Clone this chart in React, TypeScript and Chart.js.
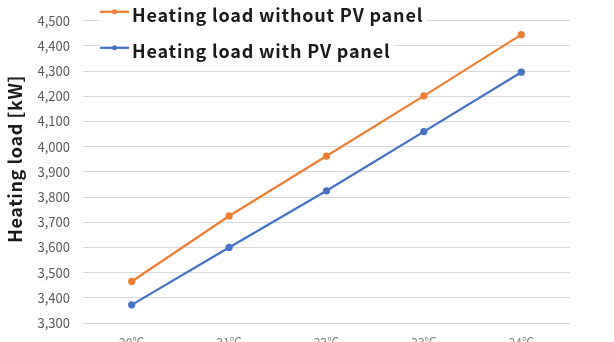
import React, { useEffect, useRef } from "react";
import { Chart, registerables } from "chart.js";

Chart.register(...registerables);

const categories = ["20℃", "21℃", "22℃", "23℃", "24℃"];
const withoutPV = [3465, 3725, 3963, 4202, 4445];
const withPV = [3372, 3600, 3825, 4060, 4296];
const seriesNames = ["Heating load without PV panel", "Heating load with PV panel"];
const yTitle = "Heating load [kW]";
const yMin = 3300;
const yMax = 4500;
const yStep = 100;

const ORANGE = "#ED7D31";
const BLUE = "#4472C4";
const FONT = "'Noto Sans CJK KR', 'Noto Sans', sans-serif";

const legendPlugin = {
  id: "insideLegend",
  afterDraw(chart: any) {
    const ctx = chart.ctx;
    const area = chart.chartArea;
    const colors = [ORANGE, BLUE];
    ctx.save();
    seriesNames.forEach((name, i) => {
      const y = area.top - 9 + i * 36;
      const x0 = area.left + 17;
      ctx.font = `bold 18px ${FONT}`;
      (ctx as any).letterSpacing = "0.8px";
      const w = ctx.measureText(name).width;
      // white background of this legend entry (hides gridlines)
      ctx.fillStyle = "#ffffff";
      ctx.fillRect(x0 - 1, y - 12, w + 36, 26);
      ctx.strokeStyle = colors[i];
      ctx.lineWidth = 2.25;
      ctx.beginPath();
      ctx.moveTo(x0, y);
      ctx.lineTo(x0 + 29, y);
      ctx.stroke();
      ctx.fillStyle = colors[i];
      ctx.beginPath();
      ctx.arc(x0 + 14.5, y, 2.5, 0, Math.PI * 2);
      ctx.fill();
      ctx.fillStyle = "#1a1a1a";
      ctx.textBaseline = "alphabetic";
      ctx.textAlign = "left";
      ctx.fillText(name, x0 + 32, y + 10);
    });
    // y axis title
    (ctx as any).letterSpacing = "0.6px";
    ctx.font = `bold 18px ${FONT}`;
    ctx.fillStyle = "#1a1a1a";
    ctx.textAlign = "center";
    ctx.textBaseline = "middle";
    ctx.translate(15, (area.top + area.bottom) / 2 - 13);
    ctx.rotate(-Math.PI / 2);
    ctx.fillText(yTitle, 0, 0);
    ctx.restore();
  },
};

export default function App() {
  const ref = useRef<HTMLCanvasElement>(null);
  useEffect(() => {
    if (!ref.current) return;
    const chart = new Chart(ref.current, {
      type: "line",
      data: {
        labels: categories,
        datasets: [
          {
            label: seriesNames[0],
            data: withoutPV,
            borderColor: ORANGE,
            backgroundColor: ORANGE,
            borderWidth: 2.25,
            pointRadius: 2.5,
            pointHoverRadius: 2.5,
            tension: 0,
          },
          {
            label: seriesNames[1],
            data: withPV,
            borderColor: BLUE,
            backgroundColor: BLUE,
            borderWidth: 2.25,
            pointRadius: 2.5,
            pointHoverRadius: 2.5,
            tension: 0,
          },
        ],
      },
      plugins: [legendPlugin],
      options: {
        animation: false,
        responsive: false,
        maintainAspectRatio: false,
        layout: { padding: { left: 0, right: 44, top: 16, bottom: 0 } },
        plugins: {
          legend: { display: false },
          tooltip: { enabled: false },
        },
        scales: {
          x: {
            offset: true,
            grid: { display: false },
            border: { display: false },
            ticks: {
              color: "#7f7f7f",
              font: { family: FONT, size: 12 },
              padding: 4,
              maxRotation: 0,
            },
            afterFit: (scale: any) => {
              scale.height = 30;
            },
          },
          y: {
            min: yMin,
            max: yMax,
            grid: { color: "#d9d9d9", lineWidth: 1, drawTicks: false },
            border: { display: false },
            ticks: {
              stepSize: yStep,
              color: "#595959",
              font: { family: FONT, size: 13 },
              padding: 13,
              callback: (v: any) => Number(v).toLocaleString("en-US"),
            },
            afterFit: (scale: any) => {
              scale.width = 83;
            },
          },
        },
      },
    });
    return () => chart.destroy();
  }, []);
  return (
    <div
      style={{
        position: "absolute",
        left: 0,
        top: 0,
        width: 614,
        height: 342,
        overflow: "hidden",
        background: "#fff",
      }}
    >
      <canvas ref={ref} width={614} height={353} style={{ display: "block" }} />
    </div>
  );
}
